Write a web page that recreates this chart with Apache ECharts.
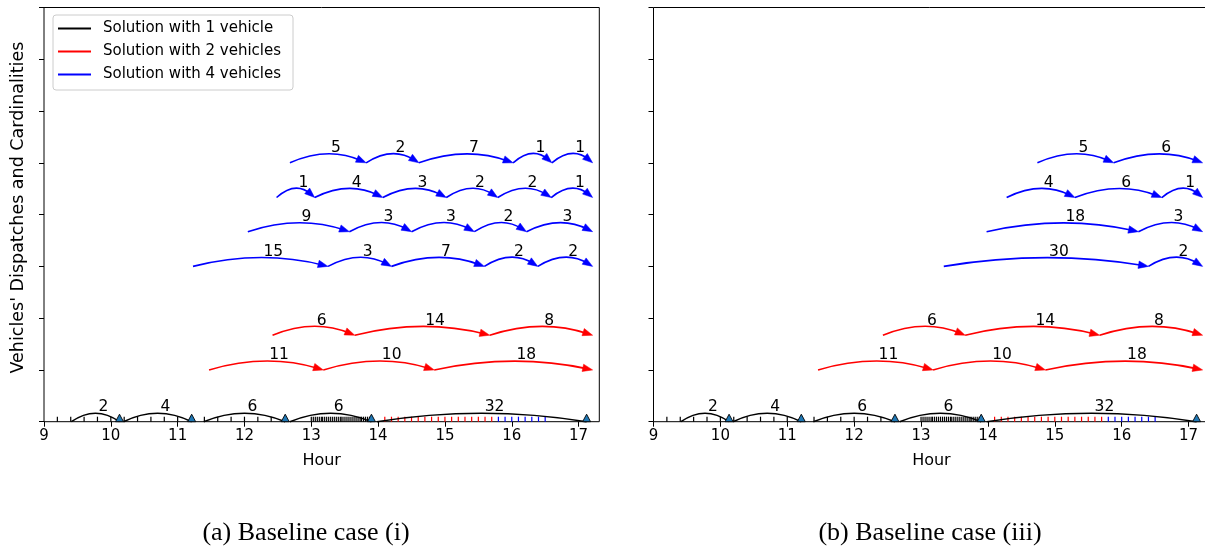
<!DOCTYPE html>
<html><head><meta charset="utf-8">
<script src="https://cdn.jsdelivr.net/npm/echarts@6/dist/echarts.min.js"></script>
<style>html,body{margin:0;padding:0;background:#fff}#c{width:1205px;height:548px}</style>
</head><body><div id="c"></div>
<script>
// ---------- text ----------
const xTickValues = [9, 10, 11, 12, 13, 14, 15, 16, 17];
const yTickValues = [0, 1, 2, 3, 4, 5, 6, 7, 8];
const xAxisTitle = 'Hour';
const yAxisTitle = "Vehicles' Dispatches and Cardinalities";
const legendNames = ['Solution with 1 vehicle', 'Solution with 2 vehicles', 'Solution with 4 vehicles'];
const captions = ['(a) Baseline case (i)', '(b) Baseline case (iii)'];

// ---------- 1-vehicle solution (row y = 0, same in both panels) ----------
const blackArcStart = [9.41, 10.19, 11.39, 12.68, 13.98];
const blackArcEnd = [10.13, 11.21, 12.61, 13.90, 17.12];
const blackArcCount = [2, 4, 6, 6, 32];

// request markers on the baseline
const blackTicks = [9.2, 9.4, 9.6, 9.8, 10.0, 10.2, 10.4, 10.6, 10.8, 11.0, 11.2, 11.4, 11.6, 11.8, 12.0, 12.2, 12.4, 12.6,
  13.00, 13.03, 13.06, 13.09, 13.12, 13.15, 13.17, 13.20, 13.23, 13.26, 13.29, 13.32, 13.35, 13.38, 13.41, 13.44,
  13.46, 13.49, 13.52, 13.55, 13.58, 13.61, 13.64, 13.67, 13.70, 13.73, 13.75, 13.78, 13.81, 13.84, 13.87, 13.90];
const redTicks = [14.1, 14.2, 14.3, 14.4, 14.5, 14.6, 14.7, 14.8, 14.9, 15.0, 15.1, 15.2, 15.3, 15.4, 15.5, 15.6, 15.7];
const blueTicks = [15.8, 15.9, 16.0, 16.1, 16.2, 16.3, 16.4, 16.5];

// ---------- row levels ----------
const redRowY = [1, 1.67];
const blueRowY = [3, 3.67, 4.33, 5];

// ---------- panel (a): dispatch times (nodes) and cardinalities ----------
const redTimesA1 = [11.47, 13.18, 14.84, 17.21];
const redCountsA1 = [11, 10, 18];
const redTimesA2 = [12.42, 13.65, 15.67, 17.21];
const redCountsA2 = [6, 14, 8];
const blueTimesA1 = [11.23, 13.25, 14.20, 15.59, 16.39, 17.21];
const blueCountsA1 = [15, 3, 7, 2, 2];
const blueTimesA2 = [12.05, 13.57, 14.50, 15.44, 16.22, 17.21];
const blueCountsA2 = [9, 3, 3, 2, 3];
const blueTimesA3 = [12.48, 13.05, 14.07, 15.02, 15.79, 16.59, 17.21];
const blueCountsA3 = [1, 4, 3, 2, 2, 1];
const blueTimesA4 = [12.68, 13.82, 14.61, 16.02, 16.60, 17.21];
const blueCountsA4 = [5, 2, 7, 1, 1];

// ---------- panel (b) ----------
const redTimesB1 = [11.46, 13.18, 14.86, 17.21];
const redCountsB1 = [11, 10, 18];
const redTimesB2 = [12.43, 13.66, 15.67, 17.21];
const redCountsB2 = [6, 14, 8];
const blueTimesB1 = [13.34, 16.40, 17.21];
const blueCountsB1 = [30, 2];
const blueTimesB2 = [13.98, 16.25, 17.21];
const blueCountsB2 = [18, 3];
const blueTimesB3 = [14.28, 15.30, 16.60, 17.21];
const blueCountsB3 = [4, 6, 1];
const blueTimesB4 = [14.74, 15.88, 17.21];
const blueCountsB4 = [5, 6];

// ---------- build arc records ----------
function rowArcs(times, counts, y) {
  const out = [];
  for (let i = 0; i < counts.length; i++) out.push([times[i], times[i + 1], y, counts[i]]);
  return out;
}
const blackArcs = blackArcStart.map((s, i) => [s, blackArcEnd[i], 0, blackArcCount[i]]);
const redArcsA = [].concat(rowArcs(redTimesA1, redCountsA1, redRowY[0]), rowArcs(redTimesA2, redCountsA2, redRowY[1]));
const blueArcsA = [].concat(rowArcs(blueTimesA1, blueCountsA1, blueRowY[0]), rowArcs(blueTimesA2, blueCountsA2, blueRowY[1]),
  rowArcs(blueTimesA3, blueCountsA3, blueRowY[2]), rowArcs(blueTimesA4, blueCountsA4, blueRowY[3]));
const redArcsB = [].concat(rowArcs(redTimesB1, redCountsB1, redRowY[0]), rowArcs(redTimesB2, redCountsB2, redRowY[1]));
const blueArcsB = [].concat(rowArcs(blueTimesB1, blueCountsB1, blueRowY[0]), rowArcs(blueTimesB2, blueCountsB2, blueRowY[1]),
  rowArcs(blueTimesB3, blueCountsB3, blueRowY[2]), rowArcs(blueTimesB4, blueCountsB4, blueRowY[3]));

// ---------- styles ----------
const FONT = 'DejaVu Sans';
const ARC_PEAK = 8.5;      // px
const LABEL_DY = 14.5;     // px above row
const LABEL_DX = 3;        // px
const HEAD_LEN = 10, HEAD_W = 7.5;

function arcRenderer(color, baseline) {
  return function (params, api) {
    const s = api.value(0), e = api.value(1), y = api.value(2), c = api.value(3);
    const p0 = api.coord([s, y]), p2 = api.coord([e, y]);
    const cx = (p0[0] + p2[0]) / 2, cy = p0[1] - 2 * ARC_PEAK;
    const children = [];
    let endPt = p2;
    if (!baseline) {
      let dx = p2[0] - cx, dy = p2[1] - cy;
      const L = Math.sqrt(dx * dx + dy * dy); dx /= L; dy /= L;
      const bx = p2[0] - dx * HEAD_LEN, by = p2[1] - dy * HEAD_LEN;
      const px = -dy, py = dx;
      endPt = [p2[0] - dx * 5, p2[1] - dy * 5];
      children.push({ type: 'polygon', z2: 2, shape: { points: [[p2[0], p2[1]], [bx + px * HEAD_W / 2, by + py * HEAD_W / 2], [bx - px * HEAD_W / 2, by - py * HEAD_W / 2]] },
        style: { fill: color, stroke: color, lineWidth: 0.5 } });
    } else {
      children.push({ type: 'polygon', z2: 2, shape: { points: [[p2[0], p2[1] - 7.5], [p2[0] - 4, p2[1]], [p2[0] + 4, p2[1]]] },
        style: { fill: '#1f77b4', stroke: '#000', lineWidth: 0.9 } });
    }
    children.unshift({ type: 'bezierCurve', shape: { x1: p0[0], y1: p0[1], x2: endPt[0], y2: endPt[1], cpx1: cx, cpy1: cy },
      style: { stroke: color, lineWidth: 1.6, fill: null } });
    children.push({ type: 'text', style: { text: String(c), x: cx + LABEL_DX, y: p0[1] - LABEL_DY, align: 'left', verticalAlign: 'middle',
      fontFamily: FONT, fontSize: 15.5, fill: '#000' } });
    return { type: 'group', children: children };
  };
}
function tickRenderer(color) {
  return function (params, api) {
    const p = api.coord([api.value(0), 0]);
    return { type: 'line', shape: { x1: p[0], y1: p[1], x2: p[0], y2: p[1] - 5 }, style: { stroke: color, lineWidth: 1.2 } };
  };
}

function panelSeries(idx, redArcs, blueArcs) {
  const ax = { xAxisIndex: idx, yAxisIndex: idx, coordinateSystem: 'cartesian2d', clip: false, silent: true };
  const mk = (name, color, data, renderer, dims) => Object.assign({ type: 'custom', name: name, itemStyle: { color: color },
    data: data, renderItem: renderer, encode: { x: 0, y: dims } }, ax);
  return [
    mk('ticks-black-' + idx, '#000', blackTicks.map(v => [v, 0]), tickRenderer('#000'), 1),
    mk('ticks-red-' + idx, '#f00', redTicks.map(v => [v, 0]), tickRenderer('#f00'), 1),
    mk('ticks-blue-' + idx, '#00f', blueTicks.map(v => [v, 0]), tickRenderer('#00f'), 1),
    mk(legendNames[0], '#000', blackArcs, arcRenderer('#000', true), 2),
    mk(legendNames[1], '#f00', redArcs, arcRenderer('#f00', false), 2),
    mk(legendNames[2], '#00f', blueArcs, arcRenderer('#00f', false), 2)
  ];
}

function xAxisCfg(idx) {
  return { gridIndex: idx, type: 'value', min: 9, max: 17.31,
    axisLine: { show: false }, splitLine: { show: false },
    axisTick: { show: true, inside: false, length: 5, lineStyle: { color: '#000', width: 1 }, customValues: xTickValues },
    axisLabel: { customValues: xTickValues, margin: 7, fontFamily: FONT, fontSize: 15, color: '#000' },
    name: xAxisTitle, nameLocation: 'middle', nameGap: 31, nameTextStyle: { fontFamily: FONT, fontSize: 16, color: '#000' } };
}
function yAxisCfg(idx, withName) {
  const c = { gridIndex: idx, type: 'value', min: 0, max: 8, interval: 1,
    axisLine: { show: false }, splitLine: { show: false },
    axisTick: { show: true, inside: false, length: 5, lineStyle: { color: '#000', width: 1 }, customValues: yTickValues },
    axisLabel: { show: false } };
  if (withName) Object.assign(c, { name: yAxisTitle, nameLocation: 'middle', nameGap: 17, nameRotate: 90,
    nameTextStyle: { fontFamily: FONT, fontSize: 17.5, color: '#000', padding: [0, 0, 0, 14] } });
  return c;
}

const chart = echarts.init(document.getElementById('c'), null, { renderer: 'canvas' });
chart.setOption({
  backgroundColor: '#ffffff',
  animation: false,
  grid: [
    { left: 44, top: 7.5, width: 555.3, height: 414.2, show: true, borderColor: '#000', borderWidth: 1, backgroundColor: 'transparent', containLabel: false, outerBoundsMode: 'none' },
    { left: 653.5, top: 7.5, width: 555.8, height: 414.2, show: true, borderColor: '#000', borderWidth: 1, backgroundColor: 'transparent', containLabel: false, outerBoundsMode: 'none' }
  ],
  xAxis: [xAxisCfg(0), xAxisCfg(1)],
  yAxis: [yAxisCfg(0, true), yAxisCfg(1, false)],
  legend: {
    data: legendNames, orient: 'vertical', left: 53, top: 15, selectedMode: false,
    itemWidth: 33, itemHeight: 2, itemGap: 8, icon: 'rect',
    padding: [6, 12, 8, 5],
    backgroundColor: 'rgba(255,255,255,0.8)', borderColor: '#cccccc', borderWidth: 1, borderRadius: 3,
    textStyle: { fontFamily: FONT, fontSize: 15, color: '#000', padding: [0, 0, 0, 7] }
  },
  graphic: [
    { type: 'text', x: 306, y: 533, style: { text: captions[0], align: 'center', verticalAlign: 'middle', fontFamily: 'Liberation Serif', fontSize: 26, fill: '#000' } },
    { type: 'text', x: 930, y: 533, style: { text: captions[1], align: 'center', verticalAlign: 'middle', fontFamily: 'Liberation Serif', fontSize: 26, fill: '#000' } }
  ],
  series: [].concat(panelSeries(0, redArcsA, blueArcsA), panelSeries(1, redArcsB, blueArcsB))
});
</script></body></html>
